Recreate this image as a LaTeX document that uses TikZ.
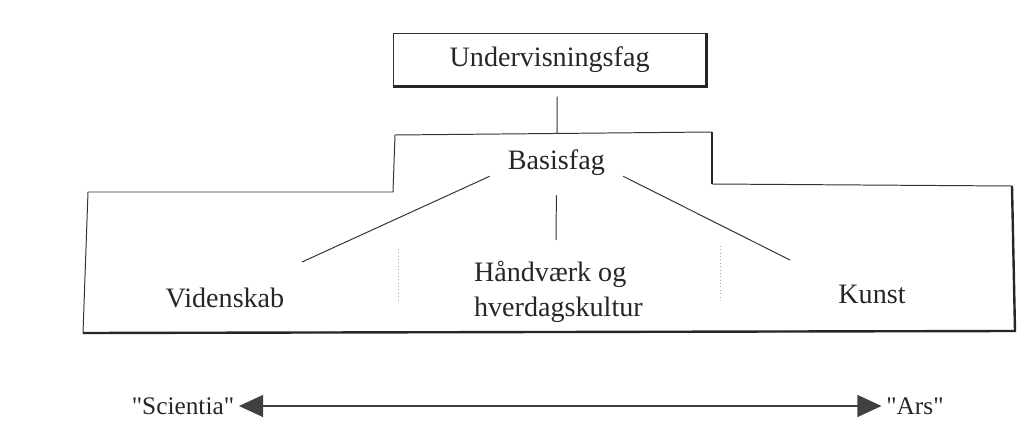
\documentclass[tikz,border=0pt]{standalone}
\usepackage{fontspec}
\setmainfont{Liberation Serif}[Ligatures=TeXOff]
\usetikzlibrary{arrows.meta, positioning}

\begin{document}
\begin{tikzpicture}[
    fag/.style={font=\fontsize{20}{25}\selectfont, text=black!85},
    pol/.style={font=\fontsize{18}{22}\selectfont, text=black!85},
    kant/.style={line width=0.7pt, draw=black!80},
    skygge/.style={line width=1.7pt, black!85},
    pil/.style={{Triangle[length=0.6cm, width=0.55cm]}-{Triangle[length=0.6cm, width=0.55cm]}, line width=0.8pt, black!75}]
    \useasboundingbox (0,0) rectangle (25.8,10.7);

    % === Undervisningsfag ===
    \node[fag, kant, draw, minimum width=7.825cm, minimum height=1.325cm] (ufag) at (13.74,9.21) {Undervisningsfag};
    \draw[skygge] (ufag.south west) -- (ufag.south east) -- (ufag.north east);

    % === Basisfag omrids ===
    \draw[kant] (2.2,5.9) -- (9.825,5.9) -- (9.875,7.325) -- (17.8,7.4) -- (17.8,6.1)
        -- (25.3,6.05) -- (25.375,2.425) -- (2.075,2.375) -- cycle;
    \draw[skygge] (17.8,7.4) -- (17.8,6.1);
    \draw[skygge] (25.3,6.05) -- (25.375,2.425) -- (2.075,2.375);

    \coordinate (tag) at (13.925,7.36);
    \draw[kant] ([xshift=0.19cm, yshift=-0.25cm]ufag.south) -- (tag);

    \node[fag, inner sep=0pt, minimum width=3.325cm, minimum height=0.65cm] (basis) at (13.91,6.625) {Basisfag};

    \node[fag] (vid) at (5.625,3.25) {Videnskab};
    \node[fag, align=left] (hand) at (13.96,3.4) {Håndværk og\\hverdagskultur};
    \node[fag] (kunst) at (21.8,3.35) {Kunst};

    \coordinate (vend) at (7.55,4.15);
    \coordinate (hend) at (13.9,4.7);
    \coordinate (kend) at (19.75,4.2);

    \draw[kant] (basis.south west) -- (vend);
    \draw[kant] ([yshift=-0.475cm]basis.south) -- (hend);
    \draw[kant] (basis.south east) -- (kend);

    % skillelinjer
    \draw[dotted, black!35] (9.95,4.475) -- (9.95,3.175);
    \draw[dotted, black!35] (18.0,4.55) -- (18.0,3.2);

    % === Scientia <-> Ars ===
    \node[pol] (sci) at (4.575,0.55) {"Scientia"};
    \node[pol] (ars) at (22.875,0.55) {"Ars"};
    \draw[pil] (sci) -- (ars);
\end{tikzpicture}
\end{document}
